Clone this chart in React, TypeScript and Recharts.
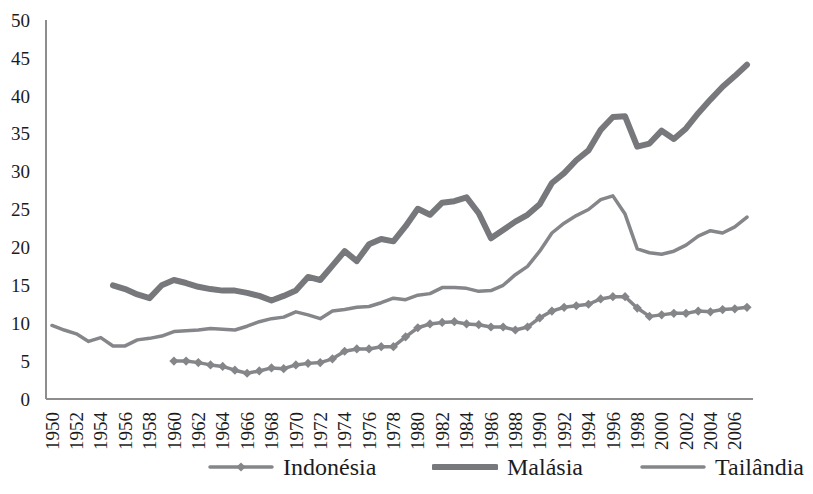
import { LineChart, Line, XAxis, YAxis, Legend } from 'recharts';

const years = [
  1950, 1951, 1952, 1953, 1954, 1955, 1956, 1957, 1958, 1959,
  1960, 1961, 1962, 1963, 1964, 1965, 1966, 1967, 1968, 1969,
  1970, 1971, 1972, 1973, 1974, 1975, 1976, 1977, 1978, 1979,
  1980, 1981, 1982, 1983, 1984, 1985, 1986, 1987, 1988, 1989,
  1990, 1991, 1992, 1993, 1994, 1995, 1996, 1997, 1998, 1999,
  2000, 2001, 2002, 2003, 2004, 2005, 2006, 2007,
];

const indonesia = [
  null, null, null, null, null, null, null, null, null, null,
  5.0, 5.0, 4.8, 4.5, 4.3, 3.8, 3.4, 3.7, 4.1, 4.0,
  4.5, 4.7, 4.8, 5.3, 6.3, 6.6, 6.6, 6.9, 6.9, 8.2,
  9.4, 9.9, 10.1, 10.2, 9.9, 9.8, 9.5, 9.5, 9.1, 9.5,
  10.7, 11.6, 12.1, 12.3, 12.5, 13.2, 13.5, 13.5, 12.0, 10.9,
  11.1, 11.3, 11.3, 11.6, 11.5, 11.8, 11.9, 12.1,
];

const malasia = [
  null, null, null, null, null, 15.0, 14.5, 13.8, 13.3, 15.0,
  15.7, 15.3, 14.8, 14.5, 14.3, 14.3, 14.0, 13.6, 13.0, 13.6,
  14.3, 16.1, 15.7, 17.6, 19.5, 18.2, 20.4, 21.1, 20.8, 22.8,
  25.1, 24.3, 25.9, 26.1, 26.6, 24.5, 21.2, 22.3, 23.4, 24.3,
  25.7, 28.5, 29.8, 31.5, 32.8, 35.5, 37.2, 37.3, 33.3, 33.7,
  35.4, 34.3, 35.7, 37.7, 39.5, 41.2, 42.6, 44.1,
];

const tailandia = [
  9.7, 9.1, 8.6, 7.6, 8.1, 7.0, 7.0, 7.8, 8.0, 8.3,
  8.9, 9.0, 9.1, 9.3, 9.2, 9.1, 9.6, 10.2, 10.6, 10.8,
  11.5, 11.1, 10.6, 11.6, 11.8, 12.1, 12.2, 12.7, 13.3, 13.1,
  13.7, 13.9, 14.7, 14.7, 14.6, 14.2, 14.3, 15.0, 16.4, 17.5,
  19.5, 21.9, 23.2, 24.2, 25.0, 26.3, 26.8, 24.4, 19.8, 19.3,
  19.1, 19.5, 20.3, 21.5, 22.2, 21.9, 22.7, 24.0,
];

const yTicks = [0, 5, 10, 15, 20, 25, 30, 35, 40, 45, 50];

const data = years.map((year, i) => ({
  year,
  indonesia: indonesia[i],
  malasia: malasia[i],
  tailandia: tailandia[i],
}));

const FONT = 'Liberation Serif, Tinos, DejaVu Serif, Times New Roman, serif';
const TEXT = '#1c1c1c';
const AXIS = '#8d8d8d';
const C_IND = '#858689';
const C_MAL = '#77787b';
const C_TAI = '#85868a';

const Diamond = (props: any) => {
  const { cx, cy } = props;
  if (cx == null || cy == null || props.value == null) return null;
  const r = 4.6;
  return (
    <polygon
      points={`${cx},${cy - r} ${cx + r},${cy} ${cx},${cy + r} ${cx - r},${cy}`}
      fill={C_IND}
    />
  );
};

const YearTick = (props: any) => {
  const { x, y, payload } = props;
  return (
    <text
      x={x}
      y={y}
      transform={`rotate(-90, ${x}, ${y})`}
      textAnchor="end"
      dy="0.35em"
      style={{ fontFamily: FONT }}
      fontSize={19}
      fill={TEXT}
    >
      {payload.value}
    </text>
  );
};

// legend entries, each placed where the reference puts its swatch
const legendItems = [
  { name: 'Indonésia', color: C_IND, width: 3.5, marker: true, left: 208 },
  { name: 'Malásia', color: C_MAL, width: 6, marker: false, left: 432 },
  { name: 'Tailândia', color: C_TAI, width: 3.5, marker: false, left: 640 },
];

const LegendBox = () => (
  <div
    style={{
      position: 'relative',
      height: 30,
      fontFamily: FONT,
      fontSize: 24,
      color: TEXT,
      whiteSpace: 'nowrap',
    }}
  >
    {legendItems.map((it) => (
      <span
        key={it.name}
        style={{
          position: 'absolute',
          left: it.left,
          top: 0,
          height: 30,
          display: 'flex',
          alignItems: 'center',
        }}
      >
        <svg width={66} height={14} style={{ marginRight: 9 }}>
          <line
            x1={2}
            y1={7}
            x2={64}
            y2={7}
            stroke={it.color}
            strokeWidth={it.width}
            strokeLinecap="round"
          />
          {it.marker && (
            <polygon points="33,2.4 37.6,7 33,11.6 28.4,7" fill={it.color} />
          )}
        </svg>
        <span>{it.name}</span>
      </span>
    ))}
  </div>
);

export default function App() {
  return (
    <div
      style={{
        position: 'absolute',
        left: 0,
        top: 0,
        background: '#fff',
        fontFamily: FONT,
      }}
    >
      <LineChart
        width={813}
        height={494}
        data={data}
        margin={{ top: 20, right: 60, left: 0, bottom: 0 }}
        style={{ fontFamily: FONT }}
      >
        <XAxis
          dataKey="year"
          interval={1}
          height={65}
          padding={{ left: 6, right: 6 }}
          tickLine={false}
          tickSize={6}
          tickMargin={7}
          axisLine={{ stroke: AXIS, strokeWidth: 2 }}
          tick={<YearTick />}
        />
        <YAxis
          width={46}
          domain={[0, 50]}
          ticks={yTicks}
          interval={0}
          tickLine={false}
          tickSize={6}
          tickMargin={10}
          axisLine={{ stroke: AXIS, strokeWidth: 2 }}
          tick={{ fontSize: 19, fill: TEXT, style: { fontFamily: FONT } }}
        />
        <Legend
          verticalAlign="bottom"
          height={30}
          content={<LegendBox />}
          wrapperStyle={{ left: 0, top: 452, width: 813 }}
        />
        <Line
          dataKey="indonesia"
          name="Indonésia"
          type="linear"
          stroke={C_IND}
          strokeWidth={3.5}
          strokeLinejoin="round"
          dot={<Diamond />}
          activeDot={false}
          isAnimationActive={false}
        />
        <Line
          dataKey="malasia"
          name="Malásia"
          type="linear"
          stroke={C_MAL}
          strokeWidth={6}
          strokeLinejoin="round"
          strokeLinecap="round"
          dot={false}
          activeDot={false}
          isAnimationActive={false}
        />
        <Line
          dataKey="tailandia"
          name="Tailândia"
          type="linear"
          stroke={C_TAI}
          strokeWidth={3.5}
          strokeLinejoin="round"
          strokeLinecap="round"
          dot={false}
          activeDot={false}
          isAnimationActive={false}
        />
      </LineChart>
    </div>
  );
}
